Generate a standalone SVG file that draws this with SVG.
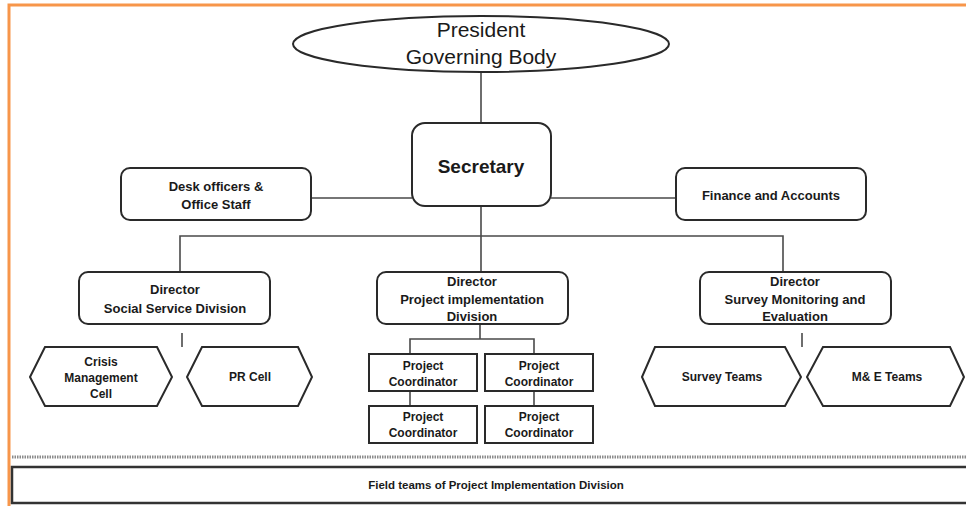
<svg xmlns="http://www.w3.org/2000/svg" width="966" height="506" viewBox="0 0 966 506">
<style>
  .box { fill: #fff; stroke: #2a2a2a; stroke-width: 2; }
  .conn { fill: none; stroke: #4a4a4a; stroke-width: 1.6; }
  text { font-family: "Liberation Sans", Arial, sans-serif; fill: #1a1a1a; text-anchor: middle; }
  .b { font-weight: bold; }
  .s13 { font-size: 13px; }
  .s12 { font-size: 12px; }
</style>
<rect x="0" y="0" width="966" height="506" fill="#fff"/>
<!-- orange frame -->
<path d="M9 506 V5 H966" fill="none" stroke="#f7964a" stroke-width="3"/>

<g id="connectors">
  <path class="conn" d="M481 72 V123"/>
  <path class="conn" d="M311 198 H412 M551 198 H676"/>
  <path class="conn" d="M481 206 V236 M180 272 V236 H783 V272 M481 236 V272"/>
  <path class="conn" d="M182 333 V347"/>
  <path class="conn" d="M480 324 V339 M410 354 V339 H534 V354"/>
  <path class="conn" d="M410 391 V406 M534 391 V406"/>
  <path class="conn" d="M802 333 V347"/>
</g>

<g id="president">
  <ellipse class="box" cx="481" cy="44" rx="188" ry="28"/>
  <text x="481" y="37" style="font-size:21px">President</text>
  <text x="481" y="64" style="font-size:21px">Governing Body</text>
</g>

<g id="secretary">
  <rect class="box" x="412" y="123" width="139" height="83" rx="13"/>
  <text class="b" x="481" y="173" style="font-size:19px">Secretary</text>
</g>

<g id="desk-officers">
  <rect class="box" x="121" y="168" width="190" height="52" rx="9"/>
  <text class="b s13" x="216" y="191">Desk officers &amp;</text>
  <text class="b s13" x="216" y="209">Office Staff</text>
</g>

<g id="finance">
  <rect class="box" x="676" y="168" width="190" height="52" rx="9"/>
  <text class="b s13" x="771" y="200">Finance and Accounts</text>
</g>

<g id="director-ssd">
  <rect class="box" x="79" y="272" width="191" height="52" rx="9"/>
  <text class="b s13" x="175" y="294">Director</text>
  <text class="b s13" x="175" y="313">Social Service Division</text>
</g>

<g id="director-pid">
  <rect class="box" x="377" y="272" width="191" height="52" rx="9"/>
  <text class="b s13" x="472" y="286">Director</text>
  <text class="b s13" x="472" y="304">Project implementation</text>
  <text class="b s13" x="472" y="321">Division</text>
</g>

<g id="director-sme">
  <rect class="box" x="700" y="272" width="191" height="52" rx="9"/>
  <text class="b s13" x="795" y="286">Director</text>
  <text class="b s13" x="795" y="304">Survey Monitoring and</text>
  <text class="b s13" x="795" y="321">Evaluation</text>
</g>

<g id="crisis-cell">
  <polygon class="box" points="30,377 45,347 157,347 172,377 157,406 45,406"/>
  <text class="b s12" x="101" y="366">Crisis</text>
  <text class="b s12" x="101" y="382">Management</text>
  <text class="b s12" x="101" y="398">Cell</text>
</g>

<g id="pr-cell">
  <polygon class="box" points="187,377 202,347 298,347 312,377 298,406 202,406"/>
  <text class="b s12" x="250" y="381">PR Cell</text>
</g>

<g id="pc1">
  <rect class="box" x="369" y="354" width="108" height="37"/>
  <text class="b s12" x="423" y="370">Project</text>
  <text class="b s12" x="423" y="386">Coordinator</text>
</g>
<g id="pc2">
  <rect class="box" x="485" y="354" width="108" height="37"/>
  <text class="b s12" x="539" y="370">Project</text>
  <text class="b s12" x="539" y="386">Coordinator</text>
</g>
<g id="pc3">
  <rect class="box" x="369" y="406" width="108" height="37"/>
  <text class="b s12" x="423" y="421">Project</text>
  <text class="b s12" x="423" y="437">Coordinator</text>
</g>
<g id="pc4">
  <rect class="box" x="485" y="406" width="108" height="37"/>
  <text class="b s12" x="539" y="421">Project</text>
  <text class="b s12" x="539" y="437">Coordinator</text>
</g>

<g id="survey-teams">
  <polygon class="box" points="642,377 655,347 785,347 801,377 785,406 655,406"/>
  <text class="b s12" x="722" y="381">Survey Teams</text>
</g>

<g id="me-teams">
  <polygon class="box" points="807,377 823,347 950,347 964,377 950,406 823,406"/>
  <text class="b s12" x="887" y="381">M&amp; E Teams</text>
</g>

<line x1="12" y1="457" x2="966" y2="457" stroke="#8a8a8a" stroke-width="3" stroke-dasharray="1.5 1"/>

<g id="field-teams">
  <rect x="12" y="467" width="960" height="36" fill="#fff" stroke="#333" stroke-width="2.5"/>
  <text class="b" x="496" y="489" style="font-size:11.5px">Field teams of Project  Implementation Division</text>
</g>
</svg>
